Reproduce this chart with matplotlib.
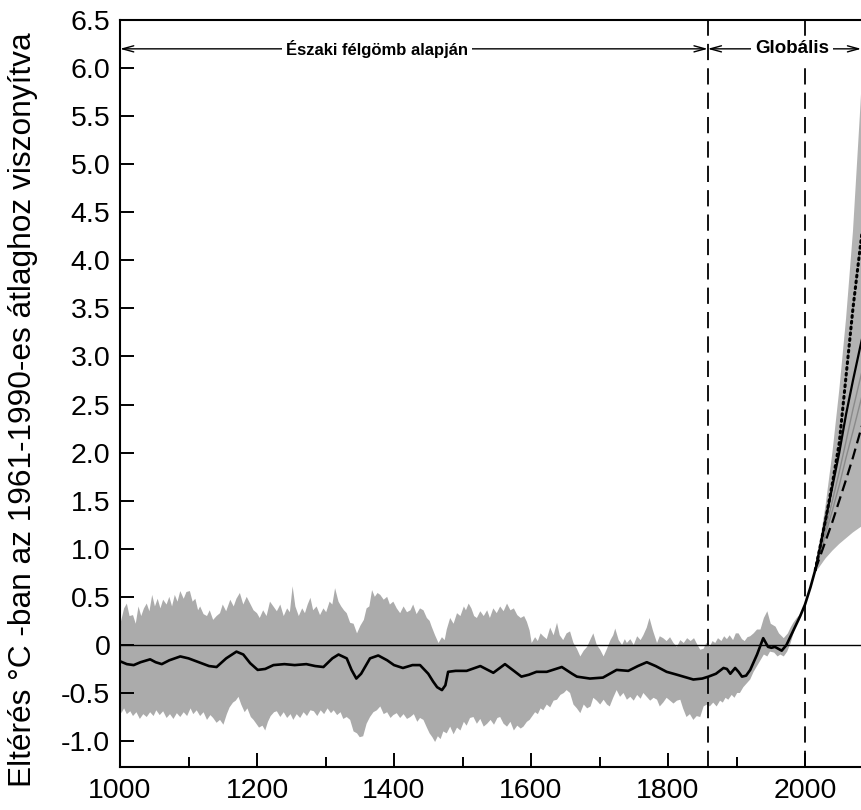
import numpy as np
import matplotlib
matplotlib.use("Agg")
import matplotlib.pyplot as plt

plt.rcParams['font.family'] = ['Liberation Sans', 'DejaVu Sans']

# ---------------- data ----------------
upper_years = [1000,1002,1006,1010,1014,1019,1023,1027,1031,1035,1039,1043,1047,1051,1055,1059,1063,1068,1072,1076,
               1080,1084,1088,1093,1097,1102,1106,1110,1114,1117,1122,1127,1131,1136,1141,1146,1150,1155,1161,1166,
               1170,1175,1180,1185,1190,1195,1200,1204,1209,1214,1219,1224,1229,1234,1239,1244,1248,1252,1256,1261,
               1266,1270,1274,1278,1282,1287,1292,1297,1301,1306,1310,1314,1319,1323,1327,1331,1336,1341,1346,1351,
               1356,1360,1364,1368,1372,1376,1380,1385,1390,1394,1399,1404,1409,1414,1419,1424,1428,1433,1438,1443,
               1448,1452,1455,1460,1465,1470,1474,1477,1482,1487,1492,1497,1502,1505,1509,1513,1517,1521,1526,1531,
               1536,1540,1545,1550,1555,1560,1565,1570,1575,1580,1585,1590,1594,1598,1601,1606,1610,1614,1618,1623,
               1628,1633,1638,1642,1647,1652,1657,1662,1667,1672,1677,1682,1687,1691,1696,1701,1706,1711,1716,1720,
               1723,1728,1733,1737,1740,1745,1750,1755,1760,1764,1769,1773,1778,1784,1788,1793,1798,1803,1808,1813,
               1818,1823,1828,1833,1838,1843,1847,1852,1856,1861,1865,1869,1873,1878,1882,1886,1890,1895,1899,1903,
               1908,1912,1916,1920,1925,1930,1935,1940,1945,1950,1957,1962,1969,1975,1979,1983,1988,1993]
upper_vals = [0.20,0.26,0.38,0.43,0.30,0.31,0.22,0.40,0.30,0.38,0.43,0.35,0.52,0.40,0.48,0.38,0.47,0.42,0.50,0.40,
              0.52,0.45,0.56,0.48,0.55,0.56,0.45,0.48,0.36,0.40,0.32,0.30,0.36,0.26,0.30,0.33,0.42,0.35,0.47,0.40,
              0.48,0.54,0.42,0.50,0.43,0.36,0.33,0.28,0.36,0.30,0.45,0.40,0.35,0.42,0.30,0.38,0.34,0.61,0.40,0.30,
              0.38,0.33,0.42,0.49,0.36,0.40,0.31,0.38,0.34,0.45,0.42,0.59,0.45,0.40,0.36,0.33,0.23,0.22,0.12,0.20,
              0.26,0.38,0.40,0.57,0.50,0.54,0.52,0.47,0.50,0.42,0.45,0.38,0.33,0.40,0.34,0.36,0.42,0.32,0.38,0.36,
              0.28,0.25,0.19,0.10,0.02,0.08,0.05,0.16,0.28,0.22,0.33,0.30,0.40,0.36,0.43,0.38,0.30,0.28,0.35,0.30,
              0.36,0.28,0.38,0.33,0.40,0.35,0.43,0.36,0.38,0.31,0.28,0.30,0.24,0.15,0.02,0.08,0.04,0.12,0.09,0.06,
              0.18,0.10,0.23,0.10,0.05,0.12,0.14,0.02,-0.04,-0.12,-0.06,-0.02,0.06,0.12,0.00,-0.05,-0.12,-0.04,0.05,0.10,
              0.17,0.05,0.00,0.06,0.02,0.06,0.00,0.09,0.05,0.10,0.18,0.28,0.15,0.02,0.09,0.07,0.04,0.08,0.02,-0.02,
              0.05,0.02,0.07,0.04,0.07,0.00,-0.05,-0.04,0.02,-0.02,0.04,0.02,0.07,0.04,0.09,0.06,0.10,0.05,0.12,0.12,
              0.06,0.04,0.08,0.09,0.12,0.16,0.16,0.28,0.35,0.22,0.19,0.12,0.07,0.12,0.18,0.23,0.28,0.32]

lower_years = [1000,1002,1006,1010,1015,1019,1024,1029,1034,1039,1044,1049,1053,1058,1063,1068,1073,1078,1083,1088,
               1093,1098,1103,1107,1112,1117,1122,1127,1132,1136,1141,1146,1151,1156,1160,1165,1169,1173,1177,1182,
               1186,1191,1195,1199,1203,1208,1212,1216,1220,1225,1229,1234,1239,1244,1249,1253,1258,1263,1268,1273,
               1278,1283,1288,1293,1298,1303,1308,1312,1317,1322,1326,1331,1336,1341,1346,1350,1355,1360,1365,1370,
               1375,1380,1385,1390,1395,1399,1404,1409,1414,1419,1424,1429,1434,1438,1443,1448,1452,1456,1460,1464,
               1468,1472,1477,1482,1487,1492,1497,1502,1506,1511,1516,1521,1526,1531,1536,1541,1546,1551,1555,1560,
               1565,1570,1575,1580,1585,1589,1594,1598,1601,1606,1610,1614,1618,1623,1628,1633,1638,1643,1648,1652,
               1657,1662,1667,1672,1677,1682,1687,1691,1696,1701,1706,1711,1715,1720,1725,1730,1735,1740,1745,1750,
               1755,1760,1764,1769,1774,1779,1784,1788,1793,1798,1803,1808,1813,1818,1822,1827,1832,1837,1842,1847,
               1852,1857,1861,1866,1871,1876,1880,1884,1888,1893,1897,1901,1905,1910,1915,1920,1925,1930,1935,1940,
               1945,1949,1955,1960,1964,1969,1974,1979,1984,1988,1993]
lower_vals = [-0.62,-0.71,-0.66,-0.72,-0.69,-0.74,-0.70,-0.77,-0.72,-0.75,-0.70,-0.74,-0.68,-0.73,-0.69,-0.76,-0.72,-0.77,-0.71,-0.75,
              -0.70,-0.74,-0.66,-0.72,-0.68,-0.74,-0.70,-0.78,-0.73,-0.76,-0.81,-0.78,-0.83,-0.72,-0.65,-0.60,-0.58,-0.54,-0.62,-0.70,
              -0.66,-0.75,-0.78,-0.82,-0.86,-0.84,-0.89,-0.80,-0.74,-0.70,-0.69,-0.75,-0.70,-0.76,-0.72,-0.78,-0.72,-0.76,-0.70,-0.74,
              -0.68,-0.69,-0.74,-0.68,-0.72,-0.66,-0.71,-0.68,-0.73,-0.70,-0.77,-0.75,-0.78,-0.90,-0.92,-0.96,-0.95,-0.82,-0.75,-0.70,
              -0.68,-0.64,-0.72,-0.70,-0.76,-0.73,-0.71,-0.76,-0.72,-0.77,-0.75,-0.72,-0.80,-0.76,-0.78,-0.86,-0.92,-0.96,-1.01,-0.95,
              -0.98,-0.90,-0.92,-0.85,-0.93,-0.86,-0.89,-0.80,-0.84,-0.76,-0.75,-0.82,-0.77,-0.85,-0.82,-0.78,-0.83,-0.76,-0.75,-0.82,
              -0.85,-0.80,-0.89,-0.84,-0.87,-0.85,-0.80,-0.78,-0.75,-0.70,-0.72,-0.66,-0.68,-0.62,-0.65,-0.58,-0.57,-0.52,-0.50,-0.47,
              -0.50,-0.62,-0.66,-0.71,-0.62,-0.66,-0.64,-0.55,-0.58,-0.62,-0.57,-0.62,-0.64,-0.55,-0.47,-0.54,-0.50,-0.57,-0.54,-0.58,
              -0.52,-0.56,-0.50,-0.54,-0.58,-0.55,-0.57,-0.64,-0.60,-0.55,-0.58,-0.61,-0.58,-0.57,-0.66,-0.75,-0.72,-0.78,-0.74,-0.75,
              -0.64,-0.62,-0.64,-0.60,-0.64,-0.58,-0.60,-0.55,-0.57,-0.52,-0.55,-0.50,-0.50,-0.44,-0.40,-0.36,-0.28,-0.22,-0.16,-0.10,
              -0.12,-0.07,-0.08,-0.12,-0.10,-0.12,-0.07,0.02,0.14,0.24,0.32]

smooth_years = [1000,1010,1020,1030,1044,1052,1061,1072,1088,1100,1115,1130,1141,1155,1170,1180,1190,1201,1212,1224,
                1240,1255,1272,1285,1297,1310,1319,1331,1338,1345,1352,1365,1377,1390,1400,1413,1427,1438,1450,1457,
                1463,1470,1475,1479,1490,1506,1526,1545,1562,1575,1586,1597,1608,1623,1645,1660,1667,1686,1705,1715,
                1725,1742,1756,1769,1782,1798,1813,1837,1850,1859,1870,1881,1886,1891,1898,1903,1908,1914,1920,1930,
                1939,1946,1951,1956,1961,1966,1973,1983,1993,2000,2008,2015]
smooth_vals = [-0.17,-0.20,-0.21,-0.18,-0.15,-0.18,-0.20,-0.16,-0.12,-0.14,-0.18,-0.22,-0.23,-0.14,-0.07,-0.10,-0.19,-0.26,-0.25,-0.21,
               -0.20,-0.21,-0.20,-0.22,-0.23,-0.14,-0.10,-0.14,-0.26,-0.35,-0.30,-0.14,-0.11,-0.16,-0.21,-0.24,-0.21,-0.21,-0.30,-0.38,
               -0.44,-0.47,-0.42,-0.28,-0.27,-0.27,-0.22,-0.29,-0.20,-0.27,-0.33,-0.31,-0.28,-0.28,-0.23,-0.30,-0.33,-0.35,-0.34,-0.30,
               -0.26,-0.27,-0.22,-0.18,-0.22,-0.28,-0.31,-0.36,-0.35,-0.33,-0.30,-0.24,-0.25,-0.30,-0.24,-0.28,-0.33,-0.32,-0.26,-0.10,
               0.07,-0.02,-0.03,-0.02,-0.04,-0.06,0.00,0.15,0.30,0.42,0.60,0.78]

proj_years = [2015, 2020, 2030, 2040, 2050, 2060, 2070, 2080, 2090, 2100]
proj_solid = [0.78, 0.95, 1.30, 1.65, 2.00, 2.40, 2.75, 3.08, 3.40, 3.70]
proj_dotted = [0.78, 0.95, 1.30, 1.68, 2.10, 2.80, 3.50, 4.10, 4.70, 5.30]
proj_dashed = [0.78, 0.88, 1.08, 1.28, 1.50, 1.72, 1.95, 2.20, 2.45, 2.70]
proj_grey1 = [0.78, 0.92, 1.20, 1.50, 1.80, 2.12, 2.45, 2.75, 3.05, 3.35]
proj_grey2 = [0.78, 0.90, 1.15, 1.40, 1.66, 1.95, 2.22, 2.50, 2.78, 3.05]
fan_upper = [0.80, 1.00, 1.45, 2.00, 2.65, 3.40, 4.30, 5.50, 6.80, 8.00]
fan_lower = [0.76, 0.80, 0.90, 0.98, 1.05, 1.11, 1.17, 1.22, 1.27, 1.32]

boundary_years = [1858, 2000]
yticks = [-1.0, -0.5, 0, 0.5, 1.0, 1.5, 2.0, 2.5, 3.0, 3.5, 4.0, 4.5, 5.0, 5.5, 6.0, 6.5]
ytick_labels = ["-1.0", "-0.5", "0", "0.5", "1.0", "1.5", "2.0", "2.5", "3.0", "3.5",
                "4.0", "4.5", "5.0", "5.5", "6.0", "6.5"]
xticks_major = [1000, 1200, 1400, 1600, 1800, 2000]
xticks_minor = [1100, 1300, 1500, 1700, 1900]
ylabel = "Eltérés °C -ban az 1961-1990-es átlaghoz viszonyítva"
label_nh = "Északi félgömb alapján"
label_gl = "Globális"

# ---------------- figure ----------------
fig = plt.figure(figsize=(8.61, 8.10), dpi=100)
ax = fig.add_axes([120/861, 43/810, 753.5/861, 747/810])
ax.set_xlim(1000, 2100)
ax.set_ylim(-1.27, 6.5)

grey = '#ababab'
ax.fill(np.concatenate([upper_years, lower_years[::-1]]),
        np.concatenate([upper_vals, lower_vals[::-1]]),
        color=grey, lw=0, zorder=1)
ax.fill(np.concatenate([proj_years, proj_years[::-1]]),
        np.concatenate([fan_upper, fan_lower[::-1]]),
        color='#b3b3b3', lw=0, zorder=1)

ax.axhline(0, color='black', lw=1.0, zorder=2)

for by in boundary_years:
    ax.axvline(by, color='black', lw=1.3, dashes=(9, 4.5), zorder=2)

ax.plot(proj_years, proj_grey1, color='#8a8a8a', lw=1.0, zorder=3)
ax.plot(proj_years, proj_grey2, color='#8a8a8a', lw=1.0, zorder=3)
ax.plot(smooth_years, smooth_vals, color='black', lw=1.9, zorder=4,
        solid_capstyle='round', solid_joinstyle='round')
ax.plot(proj_years, proj_solid, color='black', lw=1.6, zorder=4)
ax.plot(proj_years, proj_dotted, color='black', lw=2.2, linestyle=(0, (0.6, 1.3)),
        dash_capstyle='round', zorder=4)
ax.plot(proj_years, proj_dashed, color='black', lw=1.6, dashes=(5, 2.5), zorder=4)

# top annotations
arr_y = 6.2
ap = dict(arrowstyle='<->,head_length=0.8,head_width=0.22', color='black', lw=1.0,
          shrinkA=0, shrinkB=0)
ax.annotate('', xy=(1000, arr_y), xytext=(boundary_years[0], arr_y), arrowprops=ap, zorder=5)
ax.annotate('', xy=(boundary_years[0], arr_y), xytext=(2082, arr_y), arrowprops=ap, zorder=5)
ax.text(1375, arr_y, label_nh, ha='center', va='center', fontsize=12, fontweight='bold',
        bbox=dict(facecolor='white', edgecolor='none', pad=3), zorder=6)
ax.text(1981, arr_y, label_gl, ha='center', va='center', fontsize=13.5, fontweight='bold',
        bbox=dict(facecolor='white', edgecolor='none', pad=3), zorder=6)

# axes styling
for s in ['left', 'bottom', 'top', 'right']:
    ax.spines[s].set_linewidth(1.5)
ax.set_yticks(yticks)
ax.set_yticklabels(ytick_labels)
ax.set_xticks(xticks_major)
ax.set_xticks(xticks_minor, minor=True)
ax.tick_params(axis='both', which='major', direction='in', length=10, width=1.4,
               labelsize=20.5, pad=7)
ax.tick_params(axis='x', which='minor', direction='in', length=7, width=1.4)
ax.tick_params(axis='y', which='minor', left=False)
ax.tick_params(axis='x', which='major', pad=8)
fig.text(23/861, 0.494, ylabel, rotation=90, ha='center', va='center', fontsize=22.8)

fig.savefig('out.png', dpi=100)
